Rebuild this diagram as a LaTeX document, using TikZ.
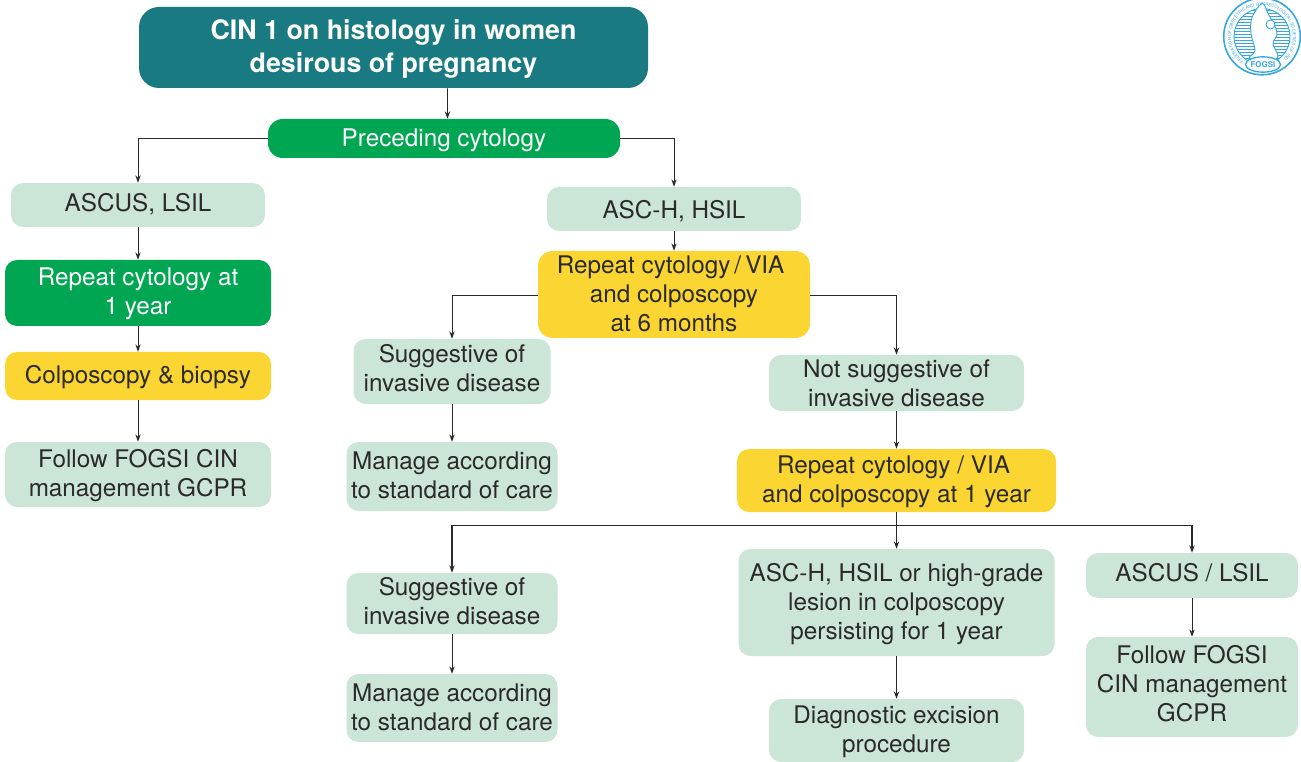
\documentclass[tikz,border=0pt]{standalone}
\usepackage{fontspec}
\setmainfont{TeX Gyre Heros}
\usetikzlibrary{arrows.meta, positioning, calc, decorations.text, shapes.geometric}
\definecolor{tealbox}{HTML}{1A7A82}
\definecolor{greenbox}{HTML}{00A651}
\definecolor{mintbox}{HTML}{CBE6D6}
\definecolor{sunbox}{HTML}{FBD633}
\definecolor{inkline}{HTML}{2B2A29}
\definecolor{logoblue}{HTML}{35A8E0}
% text block moved up or down inside its box
\newcommand{\nudged}[2]{\raisebox{#1pt}[\height][\depth]{\begin{tabular}{@{}c@{}}#2\end{tabular}}}

\begin{document}
\begin{tikzpicture}[x=0.75pt, y=-0.75pt,
    flowbox/.style={rounded corners=9pt, inner sep=0pt, align=center, text=inkline,
      font=\fontsize{18.2pt}{21.75pt}\selectfont},
    mintnode/.style={flowbox, fill=mintbox},
    sunnode/.style={flowbox, fill=sunbox},
    greennode/.style={flowbox, fill=greenbox, text=white},
    conn/.style={draw=inkline, line width=0.7pt, -{Stealth[length=5.5pt, width=4pt]}},
    busline/.style={conn, line width=1.1pt}]
    \useasboundingbox (0,0) rectangle (1301,762);

    % Top of the chart
    \node[flowbox, fill=tealbox, text=white, rounded corners=15pt, minimum width=381.75pt,
      minimum height=60.75pt, font=\fontsize{20.1pt}{24.75pt}\bfseries\selectfont] (title) at (393.5,47.5)
      {\nudged{-1.1}{CIN 1 on histology in women\\desirous of pregnancy}};
    \node[greennode, rounded corners=11pt, minimum width=264pt, minimum height=29.25pt] (cyto) at (444,138.5) {\nudged{-1.5}{Preceding cytology}};

    % Left branch
    \node[mintnode, minimum width=190.5pt, minimum height=33pt] (ascus) at (138,205) {\nudged{-0.75}{ASCUS, LSIL}};
    \node[greennode, minimum width=199.5pt, minimum height=49.5pt] (repeatyear) at (138,293) {\nudged{-1}{Repeat cytology at\\1 year}};
    \node[sunnode, minimum width=199.5pt, minimum height=36pt] (colpo) at (138,376) {\nudged{-1.5}{Colposcopy \& biopsy}};
    \node[mintnode, minimum width=199.5pt, minimum height=48.75pt] (follow) at (138,474.5) {\nudged{-1.5}{Follow FOGSI CIN\\management GCPR}};

    % Right branch
    \node[mintnode, minimum width=190.5pt, minimum height=33pt] (asch) at (674,209) {\nudged{-3}{ASC-H, HSIL}};
    \node[sunnode, rounded corners=11pt, minimum width=204pt, minimum height=63.75pt] (repeatsix) at (674,294.5) {\nudged{-1.5}{Repeat cytology\,/\,VIA\hspace*{5pt}\\and colposcopy\\at 6 months}};
    \node[mintnode, minimum width=147.75pt, minimum height=48.75pt] (suggest) at (452,371.5) {\nudged{0}{Suggestive of\\invasive disease}};
    \node[mintnode, minimum width=158.25pt, minimum height=51.75pt] (manage) at (452,476.5) {\nudged{-1.5}{Manage according\\to standard of care}};
    \node[mintnode, minimum width=191.25pt, minimum height=42pt] (notsuggest) at (896.5,383) {Not suggestive of\\invasive disease};
    \node[sunnode, minimum width=239.25pt, minimum height=47.25pt] (repeatone) at (896.5,480.5) {\nudged{-1.5}{Repeat cytology / VIA\hspace*{4.5pt}\\and colposcopy at 1 year}};

    % Bottom row
    \node[mintnode, minimum width=158.25pt, minimum height=45.75pt] (suggestb) at (452,603.5) {\nudged{-0.75}{Suggestive of\\invasive disease}};
    \node[mintnode, minimum width=158.25pt, minimum height=51pt] (manageb) at (452,708) {\nudged{-1.5}{Manage according\\to standard of care}};
    \node[mintnode, minimum width=237pt, minimum height=80.25pt] (lesion) at (896.5,602.5) {\nudged{-1.5}{ASC-H, HSIL or high-grade\\lesion in colposcopy\\persisting for 1 year}};
    \node[mintnode, minimum width=191.25pt, minimum height=47.25pt] (excision) at (896.5,730.5) {\nudged{-1.5}{Diagnostic excision\\procedure}};
    \node[mintnode, minimum width=159pt, minimum height=33.75pt] (ascusb) at (1192,575.5) {\nudged{0}{ASCUS / LSIL}};
    \node[mintnode, minimum width=159pt, minimum height=75pt] (followb) at (1192,687) {\nudged{0}{Follow FOGSI\\CIN management\\GCPR}};

    % Connectors
    \draw[conn] ([xshift=40.5pt]title.south) -- ([xshift=2.6pt]cyto.north);
    \draw[conn] (cyto.west) -| (ascus.north);
    \draw[conn] (cyto.east) -| (asch.north);
    \foreach \src/\dst in {ascus/repeatyear, repeatyear/colpo, colpo/follow, asch/repeatsix,
      suggest/manage, notsuggest/repeatone, suggestb/manageb, lesion/excision, ascusb/followb}
      \draw[conn] (\src.south) -- (\dst.north);
    \draw[conn] ([yshift=-1.1pt]repeatsix.west) -| (suggest.north);
    \draw[conn] ([yshift=-1.1pt]repeatsix.east) -| (notsuggest.north);
    \coordinate (bus) at ($(repeatone.south)+(0,13)$);
    \draw[conn] (repeatone.south) -- (lesion.north);
    \draw[busline] (bus) -| (suggestb.north);
    \draw[busline] (bus) -| (ascusb.north);

    % Logo
    \begin{scope}[shift={(1262,36.5)}, y=0.75pt]
      \fill[white] (0,0) circle (39);
      \draw[logoblue, line width=1.2pt] (0,0) circle (38.3);
      \begin{scope}
        \clip (0,0) circle (28);
        \foreach \i in {-28,-25,...,28}
          \draw[logoblue, line width=1.3pt] (-28,\i) -- (28,\i);
      \end{scope}
      \draw[logoblue, line width=0.7pt] (0,0) circle (28);
      \path[decorate, decoration={text along path, text align=center,
        text={|\fontsize{3.2pt}{3.2pt}\selectfont\color{logoblue}|FEDERATION OF OBSTETRIC AND GYNAECOLOGICAL SOCIETIES OF INDIA}}]
        (225:31) arc (225:-45:31);
      % Figure
      \draw[logoblue, line width=0.7pt, fill=white] plot[smooth cycle, tension=0.6] coordinates
        {(0,33) (-10,19) (-11,3) (-7,-14) (-12,-22) (15,-22) (11,-7) (15,4) (6,23)};
      \draw[logoblue, line width=0.7pt, fill=white] (8.5,12) circle (4.5);
      % Badge
      \node[draw=logoblue, fill=white, ellipse, line width=1pt, inner sep=0pt, minimum width=26pt,
        minimum height=11.5pt, text=logoblue, font=\fontsize{6pt}{6pt}\bfseries\selectfont] (badge) at (1,-28) {FOGSI};
    \end{scope}
\end{tikzpicture}
\end{document}
